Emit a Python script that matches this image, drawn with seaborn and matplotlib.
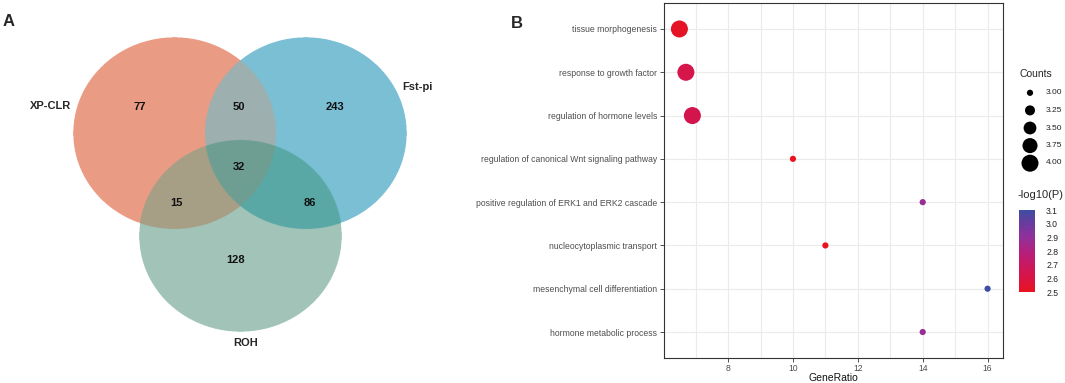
import numpy as np
import pandas as pd
import matplotlib
matplotlib.use("Agg")
import matplotlib.pyplot as plt
import matplotlib.colors as mcolors
import seaborn as sns

# ---- data ----
venn_sets = ["XP-CLR", "Fst-pi", "ROH"]
venn_counts = {"L": 77, "LR": 50, "R": 243, "LRB": 32, "LB": 15, "RB": 86, "B": 128}

terms = [
    "tissue morphogenesis",
    "response to growth factor",
    "regulation of hormone levels",
    "regulation of canonical Wnt signaling pathway",
    "positive regulation of ERK1 and ERK2 cascade",
    "nucleocytoplasmic transport",
    "mesenchymal cell differentiation",
    "hormone metabolic process",
]
gene_ratio = [6.5, 6.7, 6.9, 10, 14, 11, 16, 14]
counts = [4, 4, 4, 3, 3, 3, 3, 3]
neglogp = [2.52, 2.62, 2.63, 2.50, 2.88, 2.50, 3.10, 2.88]
size_breaks = [3.00, 3.25, 3.50, 3.75, 4.00]
p_breaks = [2.5, 2.6, 2.7, 2.8, 2.9, 3.0, 3.1]

df = pd.DataFrame({"term": terms, "GeneRatio": gene_ratio,
                   "Counts": counts, "logp": neglogp})

sns.set_theme(style="white")
plt.rcParams["font.family"] = ["Liberation Sans", "DejaVu Sans"]

W, H = 1065, 383
fig = plt.figure(figsize=(W / 100, H / 100), dpi=100)

# ---- panel A : venn ----
axv = fig.add_axes([0, 0, 468 / W, 1])
axv.set_xlim(0, 468)
axv.set_ylim(H, 0)
axv.axis("off")

ellipses = [(174.5, 133, 101.5, 96), (306, 133, 101, 96), (240.5, 236, 101.5, 96)]
xs = np.linspace(0, 468, 1404)
ys = np.linspace(0, H, 1149)
X, Y = np.meshgrid(xs, ys)
code = np.zeros(X.shape, dtype=int)
for k, (cx, cy, a, b) in enumerate(ellipses):
    code += (((X - cx) / a) ** 2 + ((Y - cy) / b) ** 2 <= 1).astype(int) << k
region_cols = {1: "#EA9B84", 2: "#7BBFD5", 4: "#A2C4B8", 3: "#9DB0AE",
               5: "#A69F86", 6: "#5AA9A6", 7: "#6E9E93"}
img = np.ones(X.shape + (4,))
img[..., 3] = 0
for c, col in region_cols.items():
    img[code == c] = mcolors.to_rgba(col)
axv.imshow(img, extent=(0, 468, H, 0), origin="upper", interpolation="antialiased",
           aspect="auto", zorder=1)

num_pos = {"L": (140, 107), "LR": (239, 107), "R": (335, 107), "LRB": (239, 167),
           "LB": (176, 203), "RB": (310, 203), "B": (236, 260)}
for key, (x, y) in num_pos.items():
    axv.text(x, y, str(venn_counts[key]), ha="center", va="center",
             fontsize=8, fontweight="bold", color="#111111", zorder=3)
axv.text(71, 106, venn_sets[0], ha="right", va="center", fontsize=8, fontweight="bold")
axv.text(402, 87, venn_sets[1], ha="left", va="center", fontsize=8, fontweight="bold")
axv.text(246, 343, venn_sets[2], ha="center", va="center", fontsize=8, fontweight="bold")
axv.text(3, 22, "A", ha="left", va="center", fontsize=12, fontweight="bold")

# ---- panel B : dot plot ----
ax = fig.add_axes([664 / W, 1 - 358 / H, (1003 - 664) / W, (358 - 3) / H])
cmap = mcolors.LinearSegmentedColormap.from_list(
    "rb", ["#E8131F", "#D91444", "#C91862", "#B3207F", "#92309A", "#6A3B9F", "#3D4DA0"])
norm = mcolors.Normalize(2.5, 3.1)
sizes = (20, 150)

ax.set_axisbelow(True)
sns.scatterplot(data=df, x="GeneRatio", y="term", hue="logp", size="Counts",
                palette=cmap, hue_norm=norm, sizes=sizes, size_norm=(3, 4),
                linewidth=0, legend=False, ax=ax, zorder=3)
ax.set_xlim(6.025, 16.475)
ax.set_ylim(len(terms) - 1 + 0.6, -0.6)
ax.set_xticks([8, 10, 12, 14, 16])
ax.set_xticks([7, 9, 11, 13, 15], minor=True)
ax.grid(True, which="both", color="#EBEBEB", linewidth=0.8)
ax.tick_params(axis="both", which="major", length=3, width=0.6, color="#333333",
               labelsize=6.2, labelcolor="#4D4D4D", pad=2, left=True, bottom=True)
ax.tick_params(axis="x", which="major", pad=1)
ax.tick_params(axis="x", which="minor", length=0)
for sp in ax.spines.values():
    sp.set_color("#333333")
    sp.set_linewidth(0.8)
ax.set_xlabel("GeneRatio", fontsize=7.5, labelpad=0, color="#111111")
ax.set_ylabel("")
fig.text(511 / W, 1 - 23 / H, "B", ha="left", va="center", fontsize=12, fontweight="bold")

# size legend
fig.text(1019 / W, 1 - 74 / H, "Counts", ha="left", va="center", fontsize=7.5)
axs = fig.add_axes([1018 / W, 1 - 172 / H, 24 / W, 88 / H])
axs.axis("off")
axs.set_xlim(0, 1)
axs.set_ylim(len(size_breaks) - 0.5, -0.5)
leg_s = [sizes[0] + (v - 3) * (sizes[1] - sizes[0]) for v in size_breaks]
axs.scatter([0.5] * len(size_breaks), range(len(size_breaks)), s=leg_s, color="black",
            linewidth=0, clip_on=False)
for i, v in enumerate(size_breaks):
    fig.text(1046 / W, 1 - (93 + i * 17.5) / H, f"{v:.2f}", ha="left", va="center",
             fontsize=6, color="#222222")

# colour bar
fig.text(1018 / W, 1 - 195 / H, "-log10(P)", ha="left", va="center", fontsize=8)
cax = fig.add_axes([1019 / W, 1 - 292 / H, 16 / W, 82 / H])
sm = matplotlib.cm.ScalarMappable(norm=norm, cmap=cmap)
cb = fig.colorbar(sm, cax=cax, ticks=p_breaks)
cb.outline.set_visible(False)
cax.tick_params(length=3, width=0.6, color="white", direction="in", labelsize=6.2,
                labelcolor="#222222", pad=8, left=True, right=True)
cax.set_yticklabels([f"{v:.1f}" for v in p_breaks])

fig.savefig("out.png", dpi=100)
